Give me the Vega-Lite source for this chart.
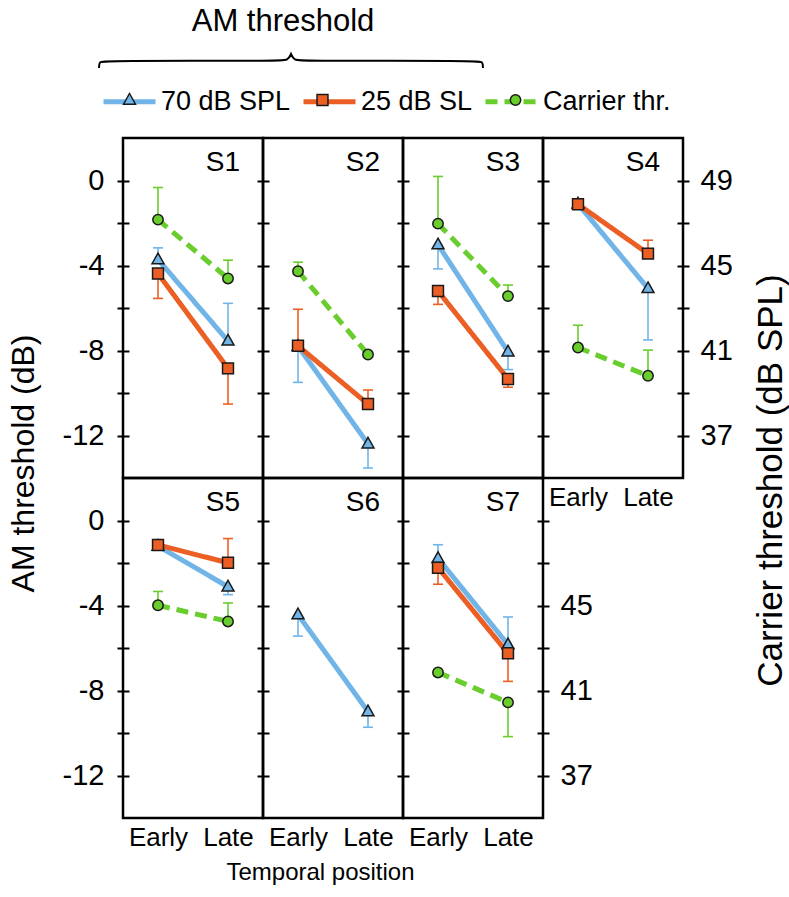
{
  "$schema": "https://vega.github.io/schema/vega-lite/v6.json",
  "background": "white",
  "padding": 5,
  "datasets": {
    "main": [
      {"s": "S1", "series": "70 dB SPL", "t": "Early", "v": -3.72, "e": -3.17},
      {"s": "S1", "series": "70 dB SPL", "t": "Late", "v": -7.55, "e": -5.78},
      {"s": "S1", "series": "25 dB SL", "t": "Early", "v": -4.38, "e": -5.55},
      {"s": "S1", "series": "25 dB SL", "t": "Late", "v": -8.84, "e": -10.52},
      {"s": "S1", "series": "Carrier thr.", "t": "Early", "v": 47.16, "e": 48.67},
      {"s": "S1", "series": "Carrier thr.", "t": "Late", "v": 44.39, "e": 45.25},
      {"s": "S2", "series": "70 dB SPL", "t": "Early", "v": -7.8, "e": -9.5},
      {"s": "S2", "series": "70 dB SPL", "t": "Late", "v": -12.39, "e": -13.53},
      {"s": "S2", "series": "25 dB SL", "t": "Early", "v": -7.78, "e": -6.06},
      {"s": "S2", "series": "25 dB SL", "t": "Late", "v": -10.52, "e": -9.86},
      {"s": "S2", "series": "Carrier thr.", "t": "Early", "v": 44.73, "e": 45.16},
      {"s": "S2", "series": "Carrier thr.", "t": "Late", "v": 40.81, "e": null},
      {"s": "S3", "series": "70 dB SPL", "t": "Early", "v": -3.02, "e": -4.16},
      {"s": "S3", "series": "70 dB SPL", "t": "Late", "v": -8.06, "e": -8.9},
      {"s": "S3", "series": "25 dB SL", "t": "Early", "v": -5.2, "e": -5.83},
      {"s": "S3", "series": "25 dB SL", "t": "Late", "v": -9.34, "e": -9.73},
      {"s": "S3", "series": "Carrier thr.", "t": "Early", "v": 46.97, "e": 49.19},
      {"s": "S3", "series": "Carrier thr.", "t": "Late", "v": 43.56, "e": 44.08},
      {"s": "S4", "series": "70 dB SPL", "t": "Early", "v": -1.1, "e": null},
      {"s": "S4", "series": "70 dB SPL", "t": "Late", "v": -5.08, "e": -7.5},
      {"s": "S4", "series": "25 dB SL", "t": "Early", "v": -1.12, "e": null},
      {"s": "S4", "series": "25 dB SL", "t": "Late", "v": -3.44, "e": -2.81},
      {"s": "S4", "series": "Carrier thr.", "t": "Early", "v": 41.14, "e": 42.19},
      {"s": "S4", "series": "Carrier thr.", "t": "Late", "v": 39.81, "e": 41.02},
      {"s": "S5", "series": "70 dB SPL", "t": "Early", "v": -1.2, "e": null},
      {"s": "S5", "series": "70 dB SPL", "t": "Late", "v": -3.12, "e": -3.49},
      {"s": "S5", "series": "25 dB SL", "t": "Early", "v": -1.15, "e": null},
      {"s": "S5", "series": "25 dB SL", "t": "Late", "v": -1.99, "e": -0.85},
      {"s": "S5", "series": "Carrier thr.", "t": "Early", "v": 45.01, "e": 45.66},
      {"s": "S5", "series": "Carrier thr.", "t": "Late", "v": 44.25, "e": 45.12},
      {"s": "S6", "series": "70 dB SPL", "t": "Early", "v": -4.43, "e": -5.44},
      {"s": "S6", "series": "70 dB SPL", "t": "Late", "v": -8.99, "e": -9.73},
      {"s": "S7", "series": "70 dB SPL", "t": "Early", "v": -1.78, "e": -1.14},
      {"s": "S7", "series": "70 dB SPL", "t": "Late", "v": -5.84, "e": -4.54},
      {"s": "S7", "series": "25 dB SL", "t": "Early", "v": -2.22, "e": -3.0},
      {"s": "S7", "series": "25 dB SL", "t": "Late", "v": -6.25, "e": -7.57},
      {"s": "S7", "series": "Carrier thr.", "t": "Early", "v": 41.85, "e": null},
      {"s": "S7", "series": "Carrier thr.", "t": "Late", "v": 40.44, "e": 38.83}
    ],
    "brace": [
      {"i": 0, "bx": -0.171, "by": 0.526},
      {"i": 1, "bx": -0.171, "by": 0.572},
      {"i": 2, "bx": -0.135, "by": 0.581},
      {"i": 3, "bx": 1.11, "by": 0.581},
      {"i": 4, "bx": 1.18, "by": 0.584},
      {"i": 5, "bx": 1.2, "by": 0.632},
      {"i": 6, "bx": 1.2, "by": 0.632},
      {"i": 7, "bx": 1.2, "by": 0.632},
      {"i": 8, "bx": 1.22, "by": 0.584},
      {"i": 9, "bx": 1.29, "by": 0.581},
      {"i": 10, "bx": 2.535, "by": 0.581},
      {"i": 11, "bx": 2.571, "by": 0.572},
      {"i": 12, "bx": 2.571, "by": 0.526}
    ]
  },
  "columns": 4,
  "spacing": 0,
  "bounds": "flush",
  "concat": [
    {
      "width": 140, "height": 133, "view": {"stroke": null},
      "layer": [
        {"data": {"name": "brace"}, "mark": {"type": "line", "interpolate": "basis", "stroke": "black", "strokeWidth": 2},
         "encoding": {"x": {"field": "bx", "type": "quantitative", "scale": {"domain": [0, 1], "nice": false, "zero": false}, "axis": null},
                      "y": {"field": "by", "type": "quantitative", "scale": {"domain": [0, 1], "nice": false, "zero": false}, "axis": null},
                      "order": {"field": "i", "type": "quantitative"}}},
        {"data": {"values": [{"label": "AM threshold"}]}, "mark": {"type": "text", "fontSize": 31, "align": "center", "baseline": "middle", "color": "black"},
         "encoding": {"x": {"datum": 1.143, "type": "quantitative"}, "y": {"datum": 0.872, "type": "quantitative"}, "text": {"field": "label"}}}
      ]
    },
    {"width": 140, "height": 133, "view": {"stroke": null}, "data": {"values": []}, "mark": "point"},
    {"width": 140, "height": 133, "view": {"stroke": null}, "data": {"values": []}, "mark": "point"},
    {"width": 140, "height": 133, "view": {"stroke": null}, "data": {"values": []}, "mark": "point"},
    {
      "width": 140, "height": 340,
      "title": {"text": "S1", "anchor": "end", "frame": "group", "offset": -61, "baseline": "alphabetic", "dx": -23},
      "data": {"name": "main"},
      "transform": [{"filter": "datum.s === 'S1'"}],
      "encoding": {"x": {"field": "t", "type": "ordinal", "scale": {"type": "point", "domain": ["Early", "Late"], "padding": 0.5}, "axis": null}},
      "resolve": {"scale": {"y": "independent"}},
      "layer": [
        {"transform": [{"filter": "datum.series !== 'Carrier thr.' && isValid(datum.e)"}], "mark": {"type": "rule", "strokeWidth": 1.6},
         "encoding": {"y": {"field": "v", "type": "quantitative", "scale": {"domain": [-14, 2], "nice": false, "zero": false}, "axis": null}, "y2": {"field": "e"},
                      "stroke": {"field": "series", "type": "nominal", "scale": {"domain": ["70 dB SPL", "25 dB SL", "Carrier thr."], "range": ["#71B5E8", "#EC5F24", "#6ACD2E"]}}}},
        {"transform": [{"filter": "datum.series !== 'Carrier thr.' && isValid(datum.e)"}], "mark": {"type": "tick", "size": 10, "thickness": 1.6, "opacity": 1},
         "encoding": {"y": {"field": "e", "type": "quantitative", "scale": {"domain": [-14, 2], "nice": false, "zero": false}, "axis": null},
                      "fill": {"field": "series", "type": "nominal", "scale": {"domain": ["Carrier thr.", "70 dB SPL", "25 dB SL"], "range": ["#6ACD2E", "#71B5E8", "#EC5F24"]}}}},
        {"transform": [{"filter": "datum.series !== 'Carrier thr.'"}], "mark": {"type": "line", "strokeWidth": 5},
         "encoding": {"y": {"field": "v", "type": "quantitative", "scale": {"domain": [-14, 2], "nice": false, "zero": false},
                            "axis": {"orient": "left", "values": [-12, -10, -8, -6, -4, -2, 0], "tickSize": 12, "offset": -6, "tickWidth": 2, "labelExpr": "datum.value % 4 === 0 ? toString(datum.value) : ''", "labelFontSize": 29, "labelPadding": 13, "labelOverlap": false, "labelFlush": false, "title": "AM threshold (dB)", "titleFontSize": 32, "titlePadding": 22, "titleY": 325}},
                      "stroke": {"field": "series", "type": "nominal", "scale": {"domain": ["70 dB SPL", "25 dB SL", "Carrier thr."], "range": ["#71B5E8", "#EC5F24", "#6ACD2E"]},
                                 "legend": {"orient": "none", "legendX": -22, "legendY": 68, "direction": "horizontal", "gridAlign": "each", "title": null, "symbolType": "stroke", "symbolSize": 2704, "symbolStrokeWidth": 5, "labelOffset": 3, "columnPadding": 2, "padding": 0, "labelFontSize": 27, "labelColor": "black"}},
                      "strokeDash": {"field": "series", "type": "nominal", "scale": {"domain": ["70 dB SPL", "25 dB SL", "Carrier thr."], "range": [[1, 0], [1, 0], [12, 7]]},
                                 "legend": {"orient": "none", "legendX": -22, "legendY": 68, "direction": "horizontal", "gridAlign": "each", "title": null, "symbolType": "stroke", "symbolSize": 2704, "symbolStrokeWidth": 5, "labelOffset": 3, "columnPadding": 2, "padding": 0, "labelFontSize": 27, "labelColor": "black"}}}},
        {"transform": [{"filter": "datum.series !== 'Carrier thr.'"}], "mark": {"type": "point", "filled": true, "size": 2704, "stroke": "#1a1a1a", "strokeWidth": 1.5, "opacity": 1},
         "encoding": {"y": {"field": "v", "type": "quantitative", "scale": {"domain": [-14, 2], "nice": false, "zero": false}, "axis": null},
                      "fill": {"field": "series", "type": "nominal", "scale": {"domain": ["Carrier thr.", "70 dB SPL", "25 dB SL"], "range": ["#6ACD2E", "#71B5E8", "#EC5F24"]},
                               "legend": {"orient": "none", "legendX": -20.5, "legendY": 68, "direction": "horizontal", "gridAlign": "all", "title": null, "symbolSize": 2704, "symbolStrokeColor": "#1a1a1a", "symbolStrokeWidth": 1.5, "symbolOpacity": 1, "labelExpr": "''", "labelOffset": 0, "columnPadding": 139, "padding": 0, "labelFontSize": 27, "values": ["70 dB SPL", "25 dB SL", "Carrier thr."]}},
                      "shape": {"field": "series", "type": "nominal", "scale": {"domain": ["Carrier thr.", "70 dB SPL", "25 dB SL"], "range": ["M -0.2 0 A 0.2 0.2 0 1 0 0.2 0 A 0.2 0.2 0 1 0 -0.2 0 Z", "M 0 -0.25 L 0.23 0.16 L -0.23 0.16 Z", "M -0.21 -0.21 L 0.21 -0.21 L 0.21 0.21 L -0.21 0.21 Z"]},
                               "legend": {"orient": "none", "legendX": -20.5, "legendY": 68, "direction": "horizontal", "gridAlign": "all", "title": null, "symbolSize": 2704, "symbolStrokeColor": "#1a1a1a", "symbolStrokeWidth": 1.5, "symbolOpacity": 1, "labelExpr": "''", "labelOffset": 0, "columnPadding": 139, "padding": 0, "labelFontSize": 27, "values": ["70 dB SPL", "25 dB SL", "Carrier thr."]}}}},
        {"transform": [{"filter": "datum.series === 'Carrier thr.' && isValid(datum.e)"}], "mark": {"type": "rule", "strokeWidth": 1.6},
         "encoding": {"y": {"field": "v", "type": "quantitative", "scale": {"domain": [35, 51], "nice": false, "zero": false}, "axis": null}, "y2": {"field": "e"},
                      "stroke": {"field": "series", "type": "nominal"}}},
        {"transform": [{"filter": "datum.series === 'Carrier thr.' && isValid(datum.e)"}], "mark": {"type": "tick", "size": 10, "thickness": 1.6, "opacity": 1},
         "encoding": {"y": {"field": "e", "type": "quantitative", "scale": {"domain": [35, 51], "nice": false, "zero": false}, "axis": null},
                      "fill": {"field": "series", "type": "nominal"}}},
        {"transform": [{"filter": "datum.series === 'Carrier thr.'"}], "mark": {"type": "line", "strokeWidth": 5},
         "encoding": {"y": {"field": "v", "type": "quantitative", "scale": {"domain": [35, 51], "nice": false, "zero": false}, "axis": null},
                      "stroke": {"field": "series", "type": "nominal"}, "strokeDash": {"field": "series", "type": "nominal"}}},
        {"transform": [{"filter": "datum.series === 'Carrier thr.'"}], "mark": {"type": "point", "filled": true, "size": 2704, "stroke": "#1a1a1a", "strokeWidth": 1.5, "opacity": 1},
         "encoding": {"y": {"field": "v", "type": "quantitative", "scale": {"domain": [35, 51], "nice": false, "zero": false}, "axis": null},
                      "fill": {"field": "series", "type": "nominal"}, "shape": {"field": "series", "type": "nominal"}}}
      ]
    },
    {
      "width": 140, "height": 340,
      "title": {"text": "S2", "anchor": "end", "frame": "group", "offset": -61, "baseline": "alphabetic", "dx": -23},
      "data": {"name": "main"},
      "transform": [{"filter": "datum.s === 'S2'"}],
      "encoding": {"x": {"field": "t", "type": "ordinal", "scale": {"type": "point", "domain": ["Early", "Late"], "padding": 0.5}, "axis": null}},
      "resolve": {"scale": {"y": "independent"}},
      "layer": [
        {"transform": [{"filter": "datum.series !== 'Carrier thr.' && isValid(datum.e)"}], "mark": {"type": "rule", "strokeWidth": 1.6},
         "encoding": {"y": {"field": "v", "type": "quantitative", "scale": {"domain": [-14, 2], "nice": false, "zero": false}, "axis": null}, "y2": {"field": "e"}, "stroke": {"field": "series", "type": "nominal"}}},
        {"transform": [{"filter": "datum.series !== 'Carrier thr.' && isValid(datum.e)"}], "mark": {"type": "tick", "size": 10, "thickness": 1.6, "opacity": 1},
         "encoding": {"y": {"field": "e", "type": "quantitative", "scale": {"domain": [-14, 2], "nice": false, "zero": false}, "axis": null}, "fill": {"field": "series", "type": "nominal"}}},
        {"transform": [{"filter": "datum.series !== 'Carrier thr.'"}], "mark": {"type": "line", "strokeWidth": 5},
         "encoding": {"y": {"field": "v", "type": "quantitative", "scale": {"domain": [-14, 2], "nice": false, "zero": false},
                            "axis": {"orient": "left", "values": [-12, -10, -8, -6, -4, -2, 0], "tickSize": 12, "offset": -6, "tickWidth": 2, "labels": false, "title": null}},
                      "stroke": {"field": "series", "type": "nominal"}, "strokeDash": {"field": "series", "type": "nominal"}}},
        {"transform": [{"filter": "datum.series !== 'Carrier thr.'"}], "mark": {"type": "point", "filled": true, "size": 2704, "stroke": "#1a1a1a", "strokeWidth": 1.5, "opacity": 1},
         "encoding": {"y": {"field": "v", "type": "quantitative", "scale": {"domain": [-14, 2], "nice": false, "zero": false}, "axis": null}, "fill": {"field": "series", "type": "nominal"}, "shape": {"field": "series", "type": "nominal"}}},
        {"transform": [{"filter": "datum.series === 'Carrier thr.' && isValid(datum.e)"}], "mark": {"type": "rule", "strokeWidth": 1.6},
         "encoding": {"y": {"field": "v", "type": "quantitative", "scale": {"domain": [35, 51], "nice": false, "zero": false}, "axis": null}, "y2": {"field": "e"}, "stroke": {"field": "series", "type": "nominal"}}},
        {"transform": [{"filter": "datum.series === 'Carrier thr.' && isValid(datum.e)"}], "mark": {"type": "tick", "size": 10, "thickness": 1.6, "opacity": 1},
         "encoding": {"y": {"field": "e", "type": "quantitative", "scale": {"domain": [35, 51], "nice": false, "zero": false}, "axis": null}, "fill": {"field": "series", "type": "nominal"}}},
        {"transform": [{"filter": "datum.series === 'Carrier thr.'"}], "mark": {"type": "line", "strokeWidth": 5},
         "encoding": {"y": {"field": "v", "type": "quantitative", "scale": {"domain": [35, 51], "nice": false, "zero": false}, "axis": null}, "stroke": {"field": "series", "type": "nominal"}, "strokeDash": {"field": "series", "type": "nominal"}}},
        {"transform": [{"filter": "datum.series === 'Carrier thr.'"}], "mark": {"type": "point", "filled": true, "size": 2704, "stroke": "#1a1a1a", "strokeWidth": 1.5, "opacity": 1},
         "encoding": {"y": {"field": "v", "type": "quantitative", "scale": {"domain": [35, 51], "nice": false, "zero": false}, "axis": null}, "fill": {"field": "series", "type": "nominal"}, "shape": {"field": "series", "type": "nominal"}}}
      ]
    },
    {
      "width": 140, "height": 340,
      "title": {"text": "S3", "anchor": "end", "frame": "group", "offset": -61, "baseline": "alphabetic", "dx": -23},
      "data": {"name": "main"},
      "transform": [{"filter": "datum.s === 'S3'"}],
      "encoding": {"x": {"field": "t", "type": "ordinal", "scale": {"type": "point", "domain": ["Early", "Late"], "padding": 0.5}, "axis": null}},
      "resolve": {"scale": {"y": "independent"}},
      "layer": [
        {"transform": [{"filter": "datum.series !== 'Carrier thr.' && isValid(datum.e)"}], "mark": {"type": "rule", "strokeWidth": 1.6},
         "encoding": {"y": {"field": "v", "type": "quantitative", "scale": {"domain": [-14, 2], "nice": false, "zero": false}, "axis": null}, "y2": {"field": "e"}, "stroke": {"field": "series", "type": "nominal"}}},
        {"transform": [{"filter": "datum.series !== 'Carrier thr.' && isValid(datum.e)"}], "mark": {"type": "tick", "size": 10, "thickness": 1.6, "opacity": 1},
         "encoding": {"y": {"field": "e", "type": "quantitative", "scale": {"domain": [-14, 2], "nice": false, "zero": false}, "axis": null}, "fill": {"field": "series", "type": "nominal"}}},
        {"transform": [{"filter": "datum.series !== 'Carrier thr.'"}], "mark": {"type": "line", "strokeWidth": 5},
         "encoding": {"y": {"field": "v", "type": "quantitative", "scale": {"domain": [-14, 2], "nice": false, "zero": false},
                            "axis": {"orient": "left", "values": [-12, -10, -8, -6, -4, -2, 0], "tickSize": 12, "offset": -6, "tickWidth": 2, "labels": false, "title": null}},
                      "stroke": {"field": "series", "type": "nominal"}, "strokeDash": {"field": "series", "type": "nominal"}}},
        {"transform": [{"filter": "datum.series !== 'Carrier thr.'"}], "mark": {"type": "point", "filled": true, "size": 2704, "stroke": "#1a1a1a", "strokeWidth": 1.5, "opacity": 1},
         "encoding": {"y": {"field": "v", "type": "quantitative", "scale": {"domain": [-14, 2], "nice": false, "zero": false}, "axis": null}, "fill": {"field": "series", "type": "nominal"}, "shape": {"field": "series", "type": "nominal"}}},
        {"transform": [{"filter": "datum.series === 'Carrier thr.' && isValid(datum.e)"}], "mark": {"type": "rule", "strokeWidth": 1.6},
         "encoding": {"y": {"field": "v", "type": "quantitative", "scale": {"domain": [35, 51], "nice": false, "zero": false}, "axis": null}, "y2": {"field": "e"}, "stroke": {"field": "series", "type": "nominal"}}},
        {"transform": [{"filter": "datum.series === 'Carrier thr.' && isValid(datum.e)"}], "mark": {"type": "tick", "size": 10, "thickness": 1.6, "opacity": 1},
         "encoding": {"y": {"field": "e", "type": "quantitative", "scale": {"domain": [35, 51], "nice": false, "zero": false}, "axis": null}, "fill": {"field": "series", "type": "nominal"}}},
        {"transform": [{"filter": "datum.series === 'Carrier thr.'"}], "mark": {"type": "line", "strokeWidth": 5},
         "encoding": {"y": {"field": "v", "type": "quantitative", "scale": {"domain": [35, 51], "nice": false, "zero": false}, "axis": null}, "stroke": {"field": "series", "type": "nominal"}, "strokeDash": {"field": "series", "type": "nominal"}}},
        {"transform": [{"filter": "datum.series === 'Carrier thr.'"}], "mark": {"type": "point", "filled": true, "size": 2704, "stroke": "#1a1a1a", "strokeWidth": 1.5, "opacity": 1},
         "encoding": {"y": {"field": "v", "type": "quantitative", "scale": {"domain": [35, 51], "nice": false, "zero": false}, "axis": null}, "fill": {"field": "series", "type": "nominal"}, "shape": {"field": "series", "type": "nominal"}}}
      ]
    },
    {
      "width": 140, "height": 340,
      "title": {"text": "S4", "anchor": "end", "frame": "group", "offset": -61, "baseline": "alphabetic", "dx": -23},
      "data": {"name": "main"},
      "transform": [{"filter": "datum.s === 'S4'"}],
      "encoding": {"x": {"field": "t", "type": "ordinal", "scale": {"type": "point", "domain": ["Early", "Late"], "padding": 0.5},
                         "axis": {"title": null, "ticks": false, "domain": false, "labelAngle": 0, "labelFontSize": 26, "labelPadding": 6, "labelFlush": false}}},
      "resolve": {"scale": {"y": "independent"}},
      "layer": [
        {"transform": [{"filter": "datum.series !== 'Carrier thr.' && isValid(datum.e)"}], "mark": {"type": "rule", "strokeWidth": 1.6},
         "encoding": {"y": {"field": "v", "type": "quantitative", "scale": {"domain": [-14, 2], "nice": false, "zero": false}, "axis": null}, "y2": {"field": "e"}, "stroke": {"field": "series", "type": "nominal"}}},
        {"transform": [{"filter": "datum.series !== 'Carrier thr.' && isValid(datum.e)"}], "mark": {"type": "tick", "size": 10, "thickness": 1.6, "opacity": 1},
         "encoding": {"y": {"field": "e", "type": "quantitative", "scale": {"domain": [-14, 2], "nice": false, "zero": false}, "axis": null}, "fill": {"field": "series", "type": "nominal"}}},
        {"transform": [{"filter": "datum.series !== 'Carrier thr.'"}], "mark": {"type": "line", "strokeWidth": 5},
         "encoding": {"y": {"field": "v", "type": "quantitative", "scale": {"domain": [-14, 2], "nice": false, "zero": false},
                            "axis": {"orient": "left", "values": [-12, -10, -8, -6, -4, -2, 0], "tickSize": 12, "offset": -6, "tickWidth": 2, "labels": false, "title": null}},
                      "stroke": {"field": "series", "type": "nominal"}, "strokeDash": {"field": "series", "type": "nominal"}}},
        {"transform": [{"filter": "datum.series !== 'Carrier thr.'"}], "mark": {"type": "point", "filled": true, "size": 2704, "stroke": "#1a1a1a", "strokeWidth": 1.5, "opacity": 1},
         "encoding": {"y": {"field": "v", "type": "quantitative", "scale": {"domain": [-14, 2], "nice": false, "zero": false}, "axis": null}, "fill": {"field": "series", "type": "nominal"}, "shape": {"field": "series", "type": "nominal"}}},
        {"transform": [{"filter": "datum.series === 'Carrier thr.' && isValid(datum.e)"}], "mark": {"type": "rule", "strokeWidth": 1.6},
         "encoding": {"y": {"field": "v", "type": "quantitative", "scale": {"domain": [35, 51], "nice": false, "zero": false}, "axis": null}, "y2": {"field": "e"}, "stroke": {"field": "series", "type": "nominal"}}},
        {"transform": [{"filter": "datum.series === 'Carrier thr.' && isValid(datum.e)"}], "mark": {"type": "tick", "size": 10, "thickness": 1.6, "opacity": 1},
         "encoding": {"y": {"field": "e", "type": "quantitative", "scale": {"domain": [35, 51], "nice": false, "zero": false}, "axis": null}, "fill": {"field": "series", "type": "nominal"}}},
        {"transform": [{"filter": "datum.series === 'Carrier thr.'"}], "mark": {"type": "line", "strokeWidth": 5},
         "encoding": {"y": {"field": "v", "type": "quantitative", "scale": {"domain": [35, 51], "nice": false, "zero": false},
                            "axis": {"orient": "right", "values": [37, 39, 41, 43, 45, 47, 49], "tickSize": 12, "offset": -6, "tickWidth": 2, "labelExpr": "(datum.value - 37) % 4 === 0 ? toString(datum.value) : ''", "labelFontSize": 29, "labelPadding": 11, "labelOverlap": false, "labelFlush": false, "title": "Carrier threshold (dB SPL)", "titleFontSize": 35, "titlePadding": 21, "titleAngle": 270, "titleBaseline": "top", "titleY": 342}},
                      "stroke": {"field": "series", "type": "nominal"}, "strokeDash": {"field": "series", "type": "nominal"}}},
        {"transform": [{"filter": "datum.series === 'Carrier thr.'"}], "mark": {"type": "point", "filled": true, "size": 2704, "stroke": "#1a1a1a", "strokeWidth": 1.5, "opacity": 1},
         "encoding": {"y": {"field": "v", "type": "quantitative", "scale": {"domain": [35, 51], "nice": false, "zero": false}, "axis": null}, "fill": {"field": "series", "type": "nominal"}, "shape": {"field": "series", "type": "nominal"}}}
      ]
    },
    {
      "width": 140, "height": 340,
      "title": {"text": "S5", "anchor": "end", "frame": "group", "offset": -61, "baseline": "alphabetic", "dx": -23},
      "data": {"name": "main"},
      "transform": [{"filter": "datum.s === 'S5'"}],
      "encoding": {"x": {"field": "t", "type": "ordinal", "scale": {"type": "point", "domain": ["Early", "Late"], "padding": 0.5},
                         "axis": {"title": null, "ticks": false, "domain": false, "labelAngle": 0, "labelFontSize": 26, "labelPadding": 6, "labelFlush": false}}},
      "resolve": {"scale": {"y": "independent"}},
      "layer": [
        {"transform": [{"filter": "datum.series !== 'Carrier thr.' && isValid(datum.e)"}], "mark": {"type": "rule", "strokeWidth": 1.6},
         "encoding": {"y": {"field": "v", "type": "quantitative", "scale": {"domain": [-14, 2], "nice": false, "zero": false}, "axis": null}, "y2": {"field": "e"}, "stroke": {"field": "series", "type": "nominal"}}},
        {"transform": [{"filter": "datum.series !== 'Carrier thr.' && isValid(datum.e)"}], "mark": {"type": "tick", "size": 10, "thickness": 1.6, "opacity": 1},
         "encoding": {"y": {"field": "e", "type": "quantitative", "scale": {"domain": [-14, 2], "nice": false, "zero": false}, "axis": null}, "fill": {"field": "series", "type": "nominal"}}},
        {"transform": [{"filter": "datum.series !== 'Carrier thr.'"}], "mark": {"type": "line", "strokeWidth": 5},
         "encoding": {"y": {"field": "v", "type": "quantitative", "scale": {"domain": [-14, 2], "nice": false, "zero": false},
                            "axis": {"orient": "left", "values": [-12, -10, -8, -6, -4, -2, 0], "tickSize": 12, "offset": -6, "tickWidth": 2, "labelExpr": "datum.value % 4 === 0 ? toString(datum.value) : ''", "labelFontSize": 29, "labelPadding": 13, "labelOverlap": false, "labelFlush": false, "title": null}},
                      "stroke": {"field": "series", "type": "nominal"}, "strokeDash": {"field": "series", "type": "nominal"}}},
        {"transform": [{"filter": "datum.series !== 'Carrier thr.'"}], "mark": {"type": "point", "filled": true, "size": 2704, "stroke": "#1a1a1a", "strokeWidth": 1.5, "opacity": 1},
         "encoding": {"y": {"field": "v", "type": "quantitative", "scale": {"domain": [-14, 2], "nice": false, "zero": false}, "axis": null}, "fill": {"field": "series", "type": "nominal"}, "shape": {"field": "series", "type": "nominal"}}},
        {"transform": [{"filter": "datum.series === 'Carrier thr.' && isValid(datum.e)"}], "mark": {"type": "rule", "strokeWidth": 1.6},
         "encoding": {"y": {"field": "v", "type": "quantitative", "scale": {"domain": [35, 51], "nice": false, "zero": false}, "axis": null}, "y2": {"field": "e"}, "stroke": {"field": "series", "type": "nominal"}}},
        {"transform": [{"filter": "datum.series === 'Carrier thr.' && isValid(datum.e)"}], "mark": {"type": "tick", "size": 10, "thickness": 1.6, "opacity": 1},
         "encoding": {"y": {"field": "e", "type": "quantitative", "scale": {"domain": [35, 51], "nice": false, "zero": false}, "axis": null}, "fill": {"field": "series", "type": "nominal"}}},
        {"transform": [{"filter": "datum.series === 'Carrier thr.'"}], "mark": {"type": "line", "strokeWidth": 5},
         "encoding": {"y": {"field": "v", "type": "quantitative", "scale": {"domain": [35, 51], "nice": false, "zero": false}, "axis": null}, "stroke": {"field": "series", "type": "nominal"}, "strokeDash": {"field": "series", "type": "nominal"}}},
        {"transform": [{"filter": "datum.series === 'Carrier thr.'"}], "mark": {"type": "point", "filled": true, "size": 2704, "stroke": "#1a1a1a", "strokeWidth": 1.5, "opacity": 1},
         "encoding": {"y": {"field": "v", "type": "quantitative", "scale": {"domain": [35, 51], "nice": false, "zero": false}, "axis": null}, "fill": {"field": "series", "type": "nominal"}, "shape": {"field": "series", "type": "nominal"}}}
      ]
    },
    {
      "width": 140, "height": 340,
      "title": {"text": "S6", "anchor": "end", "frame": "group", "offset": -61, "baseline": "alphabetic", "dx": -23},
      "data": {"name": "main"},
      "transform": [{"filter": "datum.s === 'S6'"}],
      "encoding": {"x": {"field": "t", "type": "ordinal", "scale": {"type": "point", "domain": ["Early", "Late"], "padding": 0.5},
                         "axis": {"title": "Temporal position", "titleFontSize": 24, "titlePadding": 10, "titleX": 57, "ticks": false, "domain": false, "labelAngle": 0, "labelFontSize": 26, "labelPadding": 6, "labelFlush": false}}},
      "resolve": {"scale": {"y": "independent"}},
      "layer": [
        {"transform": [{"filter": "isValid(datum.e)"}], "mark": {"type": "rule", "strokeWidth": 1.6},
         "encoding": {"y": {"field": "v", "type": "quantitative", "scale": {"domain": [-14, 2], "nice": false, "zero": false}, "axis": null}, "y2": {"field": "e"}, "stroke": {"field": "series", "type": "nominal"}}},
        {"transform": [{"filter": "isValid(datum.e)"}], "mark": {"type": "tick", "size": 10, "thickness": 1.6, "opacity": 1},
         "encoding": {"y": {"field": "e", "type": "quantitative", "scale": {"domain": [-14, 2], "nice": false, "zero": false}, "axis": null}, "fill": {"field": "series", "type": "nominal"}}},
        {"mark": {"type": "line", "strokeWidth": 5},
         "encoding": {"y": {"field": "v", "type": "quantitative", "scale": {"domain": [-14, 2], "nice": false, "zero": false},
                            "axis": {"orient": "left", "values": [-12, -10, -8, -6, -4, -2, 0], "tickSize": 12, "offset": -6, "tickWidth": 2, "labels": false, "title": null}},
                      "stroke": {"field": "series", "type": "nominal"}, "strokeDash": {"field": "series", "type": "nominal"}}},
        {"mark": {"type": "point", "filled": true, "size": 2704, "stroke": "#1a1a1a", "strokeWidth": 1.5, "opacity": 1},
         "encoding": {"y": {"field": "v", "type": "quantitative", "scale": {"domain": [-14, 2], "nice": false, "zero": false}, "axis": null}, "fill": {"field": "series", "type": "nominal"}, "shape": {"field": "series", "type": "nominal"}}}
      ]
    },
    {
      "width": 140, "height": 340,
      "title": {"text": "S7", "anchor": "end", "frame": "group", "offset": -61, "baseline": "alphabetic", "dx": -23},
      "data": {"name": "main"},
      "transform": [{"filter": "datum.s === 'S7'"}],
      "encoding": {"x": {"field": "t", "type": "ordinal", "scale": {"type": "point", "domain": ["Early", "Late"], "padding": 0.5},
                         "axis": {"title": null, "ticks": false, "domain": false, "labelAngle": 0, "labelFontSize": 26, "labelPadding": 6, "labelFlush": false}}},
      "resolve": {"scale": {"y": "independent"}},
      "layer": [
        {"transform": [{"filter": "datum.series !== 'Carrier thr.' && isValid(datum.e)"}], "mark": {"type": "rule", "strokeWidth": 1.6},
         "encoding": {"y": {"field": "v", "type": "quantitative", "scale": {"domain": [-14, 2], "nice": false, "zero": false}, "axis": null}, "y2": {"field": "e"}, "stroke": {"field": "series", "type": "nominal"}}},
        {"transform": [{"filter": "datum.series !== 'Carrier thr.' && isValid(datum.e)"}], "mark": {"type": "tick", "size": 10, "thickness": 1.6, "opacity": 1},
         "encoding": {"y": {"field": "e", "type": "quantitative", "scale": {"domain": [-14, 2], "nice": false, "zero": false}, "axis": null}, "fill": {"field": "series", "type": "nominal"}}},
        {"transform": [{"filter": "datum.series !== 'Carrier thr.'"}], "mark": {"type": "line", "strokeWidth": 5},
         "encoding": {"y": {"field": "v", "type": "quantitative", "scale": {"domain": [-14, 2], "nice": false, "zero": false},
                            "axis": {"orient": "left", "values": [-12, -10, -8, -6, -4, -2, 0], "tickSize": 12, "offset": -6, "tickWidth": 2, "labels": false, "title": null}},
                      "stroke": {"field": "series", "type": "nominal"}, "strokeDash": {"field": "series", "type": "nominal"}}},
        {"transform": [{"filter": "datum.series !== 'Carrier thr.'"}], "mark": {"type": "point", "filled": true, "size": 2704, "stroke": "#1a1a1a", "strokeWidth": 1.5, "opacity": 1},
         "encoding": {"y": {"field": "v", "type": "quantitative", "scale": {"domain": [-14, 2], "nice": false, "zero": false}, "axis": null}, "fill": {"field": "series", "type": "nominal"}, "shape": {"field": "series", "type": "nominal"}}},
        {"transform": [{"filter": "datum.series === 'Carrier thr.' && isValid(datum.e)"}], "mark": {"type": "rule", "strokeWidth": 1.6},
         "encoding": {"y": {"field": "v", "type": "quantitative", "scale": {"domain": [35, 51], "nice": false, "zero": false}, "axis": null}, "y2": {"field": "e"}, "stroke": {"field": "series", "type": "nominal"}}},
        {"transform": [{"filter": "datum.series === 'Carrier thr.' && isValid(datum.e)"}], "mark": {"type": "tick", "size": 10, "thickness": 1.6, "opacity": 1},
         "encoding": {"y": {"field": "e", "type": "quantitative", "scale": {"domain": [35, 51], "nice": false, "zero": false}, "axis": null}, "fill": {"field": "series", "type": "nominal"}}},
        {"transform": [{"filter": "datum.series === 'Carrier thr.'"}], "mark": {"type": "line", "strokeWidth": 5},
         "encoding": {"y": {"field": "v", "type": "quantitative", "scale": {"domain": [35, 51], "nice": false, "zero": false},
                            "axis": {"orient": "right", "values": [37, 39, 41, 43, 45, 47, 49], "tickSize": 12, "offset": -6, "tickWidth": 2, "labelExpr": "datum.value === 49 || (datum.value - 37) % 4 !== 0 ? '' : toString(datum.value)", "labelFontSize": 29, "labelPadding": 11, "labelOverlap": false, "labelFlush": false, "title": null}},
                      "stroke": {"field": "series", "type": "nominal"}, "strokeDash": {"field": "series", "type": "nominal"}}},
        {"transform": [{"filter": "datum.series === 'Carrier thr.'"}], "mark": {"type": "point", "filled": true, "size": 2704, "stroke": "#1a1a1a", "strokeWidth": 1.5, "opacity": 1},
         "encoding": {"y": {"field": "v", "type": "quantitative", "scale": {"domain": [35, 51], "nice": false, "zero": false}, "axis": null}, "fill": {"field": "series", "type": "nominal"}, "shape": {"field": "series", "type": "nominal"}}}
      ]
    }
  ],
  "config": {
    "font": "Liberation Sans",
    "view": {"stroke": "black", "strokeWidth": 2.5},
    "axis": {"labelColor": "black", "titleColor": "black", "tickColor": "black", "domain": false, "grid": false, "titleFontWeight": "normal", "labelFont": "Liberation Sans", "titleFont": "Liberation Sans"},
    "title": {"fontSize": 28, "fontWeight": "normal", "color": "black", "font": "Liberation Sans"},
    "legend": {"labelColor": "black", "labelFont": "Liberation Sans"}
  }
}
